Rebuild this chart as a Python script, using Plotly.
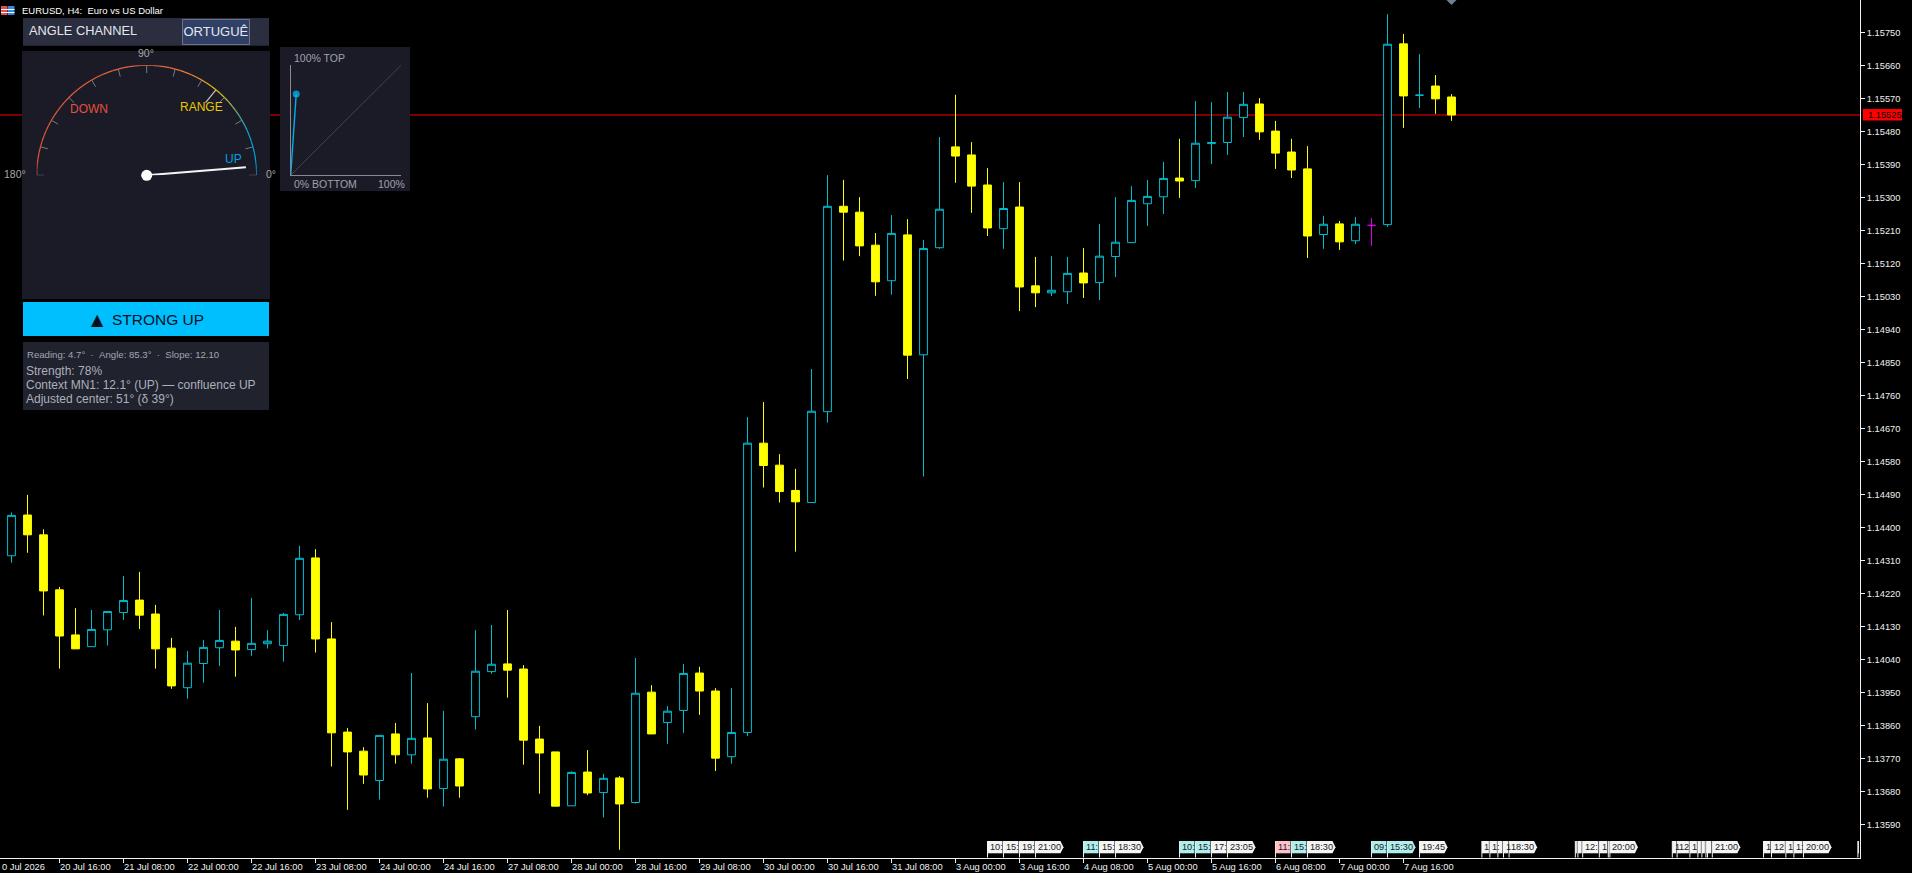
import numpy as np
import plotly.graph_objects as go

W, H = 1912, 873
AXIS_X, AXIS_Y = 1860, 857.5

# ---------- candle data (EURUSD H4) ----------
bar_index = list(range(-1, 91))
opens = [1.14257,1.14323,1.14434,1.14380,1.14230,1.14107,1.14075,1.14121,1.14168,1.14202,1.14164,1.14071,1.13963,1.14029,1.14072,1.14090,1.14067,1.14083,1.14078,1.14162,1.14317,1.14096,1.13842,1.13790,1.13710,1.13837,1.13780,1.13826,1.13688,1.13769,1.13884,1.14007,1.14028,1.14014,1.13823,1.13788,1.13641,1.13733,1.13677,1.13717,1.13650,1.13951,1.13868,1.13901,1.14003,1.13954,1.13775,1.13841,1.14630,1.14570,1.14501,1.14468,1.14716,1.15276,1.15260,1.15170,1.15073,1.15198,1.14871,1.15163,1.15438,1.15416,1.15334,1.15215,1.15274,1.15059,1.15040,1.15043,1.15094,1.15068,1.15139,1.15177,1.15283,1.15302,1.15353,1.15346,1.15447,1.15450,1.15518,1.15555,1.15481,1.15424,1.15378,1.15199,1.15228,1.15182,1.15224,1.15226,1.15719,1.15579,1.15604,1.15574]
highs = [1.14325,1.14441,1.14489,1.14395,1.14238,1.14180,1.14175,1.14171,1.14268,1.14279,1.14189,1.14099,1.14063,1.14093,1.14175,1.14129,1.14208,1.14120,1.14167,1.14350,1.14341,1.14142,1.13853,1.13801,1.13833,1.13867,1.14003,1.13921,1.13900,1.13771,1.14120,1.14134,1.14175,1.14025,1.13859,1.13788,1.13735,1.13793,1.13728,1.13722,1.14044,1.13970,1.13913,1.14028,1.14020,1.13962,1.13962,1.14701,1.14742,1.14600,1.14560,1.14832,1.15361,1.15348,1.15301,1.15203,1.15252,1.15241,1.15184,1.15465,1.15580,1.15451,1.15380,1.15342,1.15342,1.15138,1.15140,1.15138,1.15162,1.15228,1.15301,1.15331,1.15348,1.15397,1.15460,1.15563,1.15560,1.15588,1.15588,1.15571,1.15509,1.15460,1.15440,1.15250,1.15236,1.15247,1.15244,1.15800,1.15746,1.15691,1.15634,1.15582]
lows = [1.14257,1.14304,1.14331,1.14160,1.14015,1.14069,1.14075,1.14078,1.14148,1.14123,1.14015,1.13960,1.13933,1.13977,1.14022,1.13993,1.14050,1.14070,1.14034,1.14148,1.14059,1.13748,1.13630,1.13701,1.13658,1.13756,1.13756,1.13663,1.13639,1.13663,1.13849,1.14001,1.13936,1.13753,1.13674,1.13640,1.13641,1.13670,1.13609,1.13521,1.13647,1.13837,1.13810,1.13840,1.13889,1.13736,1.13756,1.13831,1.14509,1.14468,1.14334,1.14468,1.14686,1.15128,1.15140,1.15032,1.15035,1.14805,1.14539,1.15160,1.15340,1.15258,1.15195,1.15160,1.14990,1.15001,1.15031,1.15010,1.15026,1.15020,1.15083,1.15177,1.15222,1.15255,1.15299,1.15326,1.15391,1.15416,1.15465,1.15457,1.15378,1.15353,1.15135,1.15160,1.15157,1.15173,1.15168,1.15220,1.15490,1.15544,1.15528,1.15509]
closes = [1.14325,1.14433,1.14380,1.14227,1.14104,1.14069,1.14122,1.14171,1.14201,1.14161,1.14069,1.13968,1.14030,1.14073,1.14092,1.14066,1.14084,1.14090,1.14163,1.14316,1.14096,1.13840,1.13788,1.13725,1.13833,1.13780,1.13825,1.13687,1.13768,1.13695,1.14008,1.14027,1.14011,1.13820,1.13785,1.13640,1.13732,1.13676,1.13716,1.13646,1.13948,1.13837,1.13899,1.14002,1.13954,1.13771,1.13841,1.14630,1.14569,1.14498,1.14470,1.14717,1.15276,1.15260,1.15168,1.15070,1.15202,1.14870,1.15161,1.15268,1.15413,1.15331,1.15217,1.15270,1.15056,1.15040,1.15047,1.15093,1.15067,1.15140,1.15178,1.15292,1.15303,1.15352,1.15345,1.15448,1.15450,1.15519,1.15554,1.15479,1.15421,1.15375,1.15195,1.15227,1.15179,1.15227,1.15224,1.15718,1.15577,1.15579,1.15569,1.15525]
doji_bar = 85          # the one magenta candle
last_price = 1.15525
last_price_label = "1.15525"

# ---------- axes labels ----------
price_ticks = [1.13590,1.13680,1.13770,1.13860,1.13950,1.14040,1.14130,1.14220,1.14310,1.14400,1.14490,1.14580,1.14670,1.14760,1.14850,1.14940,1.15030,1.15120,1.15210,1.15300,1.15390,1.15480,1.15570,1.15660,1.15750]
price_labels = ["%.5f" % p for p in price_ticks]
time_ticks = [-1,3,7,11,15,19,23,27,31,35,39,43,47,51,55,59,63,67,71,75,79,83,87]
time_labels = ["0 Jul 2026","20 Jul 16:00","21 Jul 08:00","22 Jul 00:00","22 Jul 16:00","23 Jul 08:00","24 Jul 00:00","24 Jul 16:00","27 Jul 08:00","28 Jul 00:00","28 Jul 16:00","29 Jul 08:00","30 Jul 00:00","30 Jul 16:00","31 Jul 08:00","3 Aug 00:00","3 Aug 16:00","4 Aug 08:00","5 Aug 00:00","5 Aug 16:00","6 Aug 08:00","7 Aug 00:00","7 Aug 16:00"]

# ---------- calendar event tags ----------
tag_bars = [61,62,63,64, 67,68,69, 73,74,75,76, 79,80,81, 85,86, 88,
            91.9,92.4,92.9,93.25,93.6,
            97.74,97.9,98.2,99.24,99.8,99.9,
            103.8,104.1,104.9,105.4,105.65,105.9,106.0,106.3,
            109.5,110.0,110.9,111.4,112.0, 115.4]
tag_labels = ["10:","15:","19:","21:00", "11:","15:","18:30", "10:","15:","17:","23:05", "11:","15:","18:30", "09:","15:30", "19:45",
              "1","1:","","1","18:30",
              "","","12:","1","","20:00",
              "1","12","1","","","","","21:00",
              "1","12","1","1:","20:00", ""]
tag_kinds = ["w","w","w","w", "c","w","w", "c","c","w","w", "p","c","w", "c","c", "w",
             "w","w","w","w","w", "w","w","w","w","w","w",
             "w","w","w","w","w","w","w","w", "w","w","w","w","w","w"]
tag_colors = {"w": "#F4F4F4", "c": "#AFEEEE", "p": "#FFC0CB"}

# ---------- gauge readings ----------
reading_deg = 4.7
center_deg = 51
gauge_tick_deg = [0,15,30,45,60,75,90,105,120,135,150,165,180]
arc_stops_deg = [0, 20, 27, 34, 42, 52, 62, 75, 180]
arc_stops_col = ["#00A0E0","#00A8E0","#20B0C8","#60B080","#B4C040","#E8C000","#F09830","#EC6A3C","#E2503E"]
channel_x_pct, channel_y_pct = 5, 74


def X(x): return x / W
def Y(y): return 1 - y / H


shapes, annos = [], []

def rect(x0, y0, x1, y1, fill, line=None):
    shapes.append(dict(type="rect", xref="paper", yref="paper", x0=X(x0), x1=X(x1), y0=Y(y0), y1=Y(y1),
                       fillcolor=fill, line=dict(width=1 if line else 0, color=line or fill), layer="below"))

def text(x, y, s, size, color, anchor="left", font="Liberation Sans", **kw):
    annos.append(dict(xref="paper", yref="paper", x=X(x), y=Y(y), text=s, showarrow=False, xanchor=anchor,
                      yanchor="middle", borderpad=0, font=dict(size=size, color=color, family=font), **kw))


# last-price line goes first, under everything
shapes.append(dict(type="line", xref="paper", yref="y", x0=0, x1=X(AXIS_X), y0=last_price, y1=last_price,
                   line=dict(color="#FF0000", width=1), layer="below"))

# panels
rect(23, 18, 269, 45.7, "#2A2E3F")
rect(182.5, 19.5, 249.5, 44.5, "#2F3F66", "#6A7285")
rect(22, 51, 270, 299, "#1A1B26")
rect(23, 302, 269, 336, "#00BFFF")
rect(23, 342, 269, 410, "#20222E")
rect(280, 47, 410, 191, "#1A1B26")
# window icon
rect(1, 6, 7.5, 15, "#E05050")
rect(8, 6, 14.5, 15, "#3A86D8")
for yy in (9, 12):
    rect(1, yy, 14.5, yy + 1, "#FFFFFF")
# event marker at the top edge
shapes.append(dict(type="path", xref="paper", yref="paper", layer="below", fillcolor="#708090", line=dict(width=0),
                   path=f"M{X(1446.5)},{Y(0)} L{X(1456.5)},{Y(0)} L{X(1451.5)},{Y(5)} Z"))
# last-price flag
rect(1863, 109, 1902, 120.5, "#FF0000")
text(1866.5, 115, last_price_label, 9.3, "#000000")

# panel texts
text(20.5, 10.7, "EURUSD, H4:\u00a0\u00a0Euro vs US Dollar", 9.5, "#FFFFFF")
text(28, 31, "ANGLE CHANNEL", 12.8, "#E4E6EE")
text(216, 31.5, "PORTUGUÊS", 13, "#E4E6EE", anchor="center", width=66, align="center")
text(97.5, 319, "▲", 16, "#06101E", anchor="center", font="DejaVu Sans")
text(111, 319, "STRONG UP", 15.5, "#06101E")
text(25.5, 354.7, "Reading: 4.7°\u00a0\u00a0·\u00a0\u00a0Angle: 85.3°\u00a0\u00a0·\u00a0\u00a0Slope: 12.10", 9.6, "#A2A6B2")
text(25, 370.7, "Strength: 78%", 12, "#ACB0BC")
text(25, 384.7, "Context MN1: 12.1° (UP) — confluence UP", 12, "#ACB0BC")
text(25, 398.7, "Adjusted center: 51° (δ 39°)", 12, "#ACB0BC")
text(145.7, 52.7, "90°", 10.5, "#A8A8A8", anchor="center")
text(15, 174, "180°", 10.5, "#A8A8A8", anchor="center")
text(271, 174, "0°", 10.5, "#A8A8A8", anchor="center")
text(89.3, 108.7, "DOWN", 12, "#E2503E", anchor="center")
text(201, 107.3, "RANGE", 12, "#E8C800", anchor="center")
text(233.3, 159.3, "UP", 12, "#00A0E0", anchor="center")
text(292.7, 58, "100% TOP", 10.5, "#A0A2AA")
text(292.7, 184, "0% BOTTOM", 10.5, "#A0A2AA")
text(405.7, 184, "100%", 10.5, "#A0A2AA", anchor="right")

# calendar tags
TAG_TOP, TAG_BOT = 841, 853.3
bar_px = lambda k: 11.5 + 16 * k
for i, (k, lab, kind) in enumerate(zip(tag_bars, tag_labels, tag_kinds)):
    x = bar_px(k)
    col = tag_colors[kind]
    shapes.append(dict(type="line", xref="paper", yref="paper", x0=X(x), x1=X(x), y0=Y(TAG_TOP), y1=Y(AXIS_Y),
                       line=dict(color="#F4F4F4", width=1), layer="below"))
    if len(lab) == 5:
        w = 28
        shapes.append(dict(type="path", xref="paper", yref="paper", layer="below", fillcolor=col, line=dict(width=0),
                           path=f"M{X(x)},{Y(TAG_TOP)} L{X(x+w-3)},{Y(TAG_TOP)} L{X(x+w)},{Y(847.2)} L{X(x+w-3)},{Y(TAG_BOT)} L{X(x)},{Y(TAG_BOT)} Z"))
    else:
        nxt = bar_px(tag_bars[i + 1]) if i + 1 < len(tag_bars) else x + 2
        rect(x, TAG_TOP, max(x + 1, nxt - 1), TAG_BOT, col)
    if lab:
        text(x + 1.2, 847.2, lab, 9.2, "#202020")

# x tick labels (left aligned at the tick)
for k, lab in zip(time_ticks, time_labels):
    annos.append(dict(xref="x", yref="paper", x=max(k, 0), y=Y(866.7), text=lab, showarrow=False, xanchor="left",
                      yanchor="middle", xshift=-11 if k < 0 else -1, borderpad=0,
                      font=dict(size=9.3, color="#F0F0F0", family="Liberation Sans")))

fig = go.Figure()

main_i = [i for i, b in enumerate(bar_index) if b != doji_bar]
take = lambda arr: [arr[i] for i in main_i]
fig.add_trace(go.Candlestick(
    x=take(bar_index), open=take(opens), high=take(highs), low=take(lows), close=take(closes),
    increasing=dict(line=dict(color="#00BCD0", width=1), fillcolor="#000000"),
    decreasing=dict(line=dict(color="#FFFF00", width=1), fillcolor="#FFFF00"),
    showlegend=False, hoverinfo="skip"))
d = bar_index.index(doji_bar)
fig.add_trace(go.Candlestick(
    x=[doji_bar], open=[opens[d]], high=[highs[d]], low=[lows[d]], close=[closes[d]],
    increasing=dict(line=dict(color="#E000E0", width=1), fillcolor="#E000E0"),
    decreasing=dict(line=dict(color="#E000E0", width=1), fillcolor="#E000E0"),
    showlegend=False, hoverinfo="skip"))

# gauge
def col_lerp(deg):
    for a0, a1, c0, c1 in zip(arc_stops_deg, arc_stops_deg[1:], arc_stops_col, arc_stops_col[1:]):
        if a0 <= deg <= a1:
            t = (deg - a0) / (a1 - a0)
            rgb = [round(int(c0[j:j+2], 16) * (1 - t) + int(c1[j:j+2], 16) * t) for j in (1, 3, 5)]
            return f"rgb({rgb[0]},{rgb[1]},{rgb[2]})"
    return arc_stops_col[-1]

def gauge_line(xs, ys, color, width):
    fig.add_trace(go.Scatter(x=xs, y=ys, mode="lines", line=dict(color=color, width=width), xaxis="x2", yaxis="y2",
                             cliponaxis=False, showlegend=False, hoverinfo="skip"))

for deg in gauge_tick_deg:
    a = np.radians(deg)
    gauge_line([0.93 * np.cos(a), np.cos(a)], [0.93 * np.sin(a), np.sin(a)], "#777A80", 1)
a = np.radians(center_deg)
gauge_line([0.85 * np.cos(a), np.cos(a)], [0.85 * np.sin(a), np.sin(a)], "#C8C8C8", 1.2)
step = 3
for deg in range(0, 180, step):
    t = np.radians(np.linspace(deg, deg + step, 5))
    gauge_line(np.cos(t), np.sin(t), col_lerp(deg + step / 2), 1.2)
a = np.radians(reading_deg)
gauge_line([0, 0.905 * np.cos(a)], [0, 0.905 * np.sin(a)], "#F4F4F4", 2)
fig.add_trace(go.Scatter(x=[0], y=[0], mode="markers", marker=dict(color="#FFFFFF", size=11), xaxis="x2", yaxis="y2",
                         cliponaxis=False, showlegend=False, hoverinfo="skip"))

# channel position mini plot
fig.add_trace(go.Scatter(x=[0, 100], y=[0, 100], mode="lines", line=dict(color="#45464E", width=1), xaxis="x3", yaxis="y3",
                         cliponaxis=False, showlegend=False, hoverinfo="skip"))
fig.add_trace(go.Scatter(x=[0, channel_x_pct], y=[0, channel_y_pct], mode="lines+markers", line=dict(color="#00AEEF", width=1.4),
                         marker=dict(color="#00BFFF", size=[0, 7], line=dict(width=0)), xaxis="x3", yaxis="y3",
                         cliponaxis=False, showlegend=False, hoverinfo="skip"))

invisible = dict(visible=False, fixedrange=True, showgrid=False, zeroline=False)
mini = dict(showline=True, linecolor="#8A8A8E", linewidth=1, showgrid=False, zeroline=False, ticks="", showticklabels=False,
            fixedrange=True, range=[0, 100])

fig.update_layout(
    width=W, height=H, margin=dict(l=0, r=0, t=0, b=0, pad=0), autosize=False,
    paper_bgcolor="#000000", plot_bgcolor="rgba(0,0,0,0)", showlegend=False, boxmode="overlay", hovermode=False,
    shapes=shapes, annotations=annos,
    xaxis=dict(domain=[0, X(AXIS_X)], range=[-11.5 / 16, (AXIS_X - 11.5) / 16], rangeslider=dict(visible=False),
               showgrid=False, zeroline=False, showline=True, linecolor="#F0F0F0", linewidth=1, tickmode="array",
               tickvals=time_ticks, ticks="outside", ticklen=4, tickcolor="#F0F0F0", showticklabels=False, fixedrange=True),
    yaxis=dict(domain=[Y(AXIS_Y), 1], range=[1.1350, 1.158386], side="right", showgrid=False, zeroline=False, showline=True,
               linecolor="#F0F0F0", linewidth=1, tickmode="array", tickvals=price_ticks, ticktext=price_labels,
               ticks="outside", ticklen=4, tickcolor="#F0F0F0", fixedrange=True,
               tickfont=dict(size=9.3, color="#F0F0F0", family="Liberation Sans")),
    xaxis2=dict(domain=[X(36.7), X(256.7)], range=[-1, 1], anchor="y2", **invisible),
    yaxis2=dict(domain=[Y(175.3), Y(65.3)], range=[0, 1], anchor="x2", **invisible),
    xaxis3=dict(domain=[X(290.7), X(401)], anchor="y3", **mini),
    yaxis3=dict(domain=[Y(175.3), Y(65.3)], anchor="x3", **mini),
)

fig.write_html("out.html", config=dict(displayModeBar=False),
               post_script="document.body.style.margin='0';document.body.style.background='#000';document.body.style.overflow='hidden';")
